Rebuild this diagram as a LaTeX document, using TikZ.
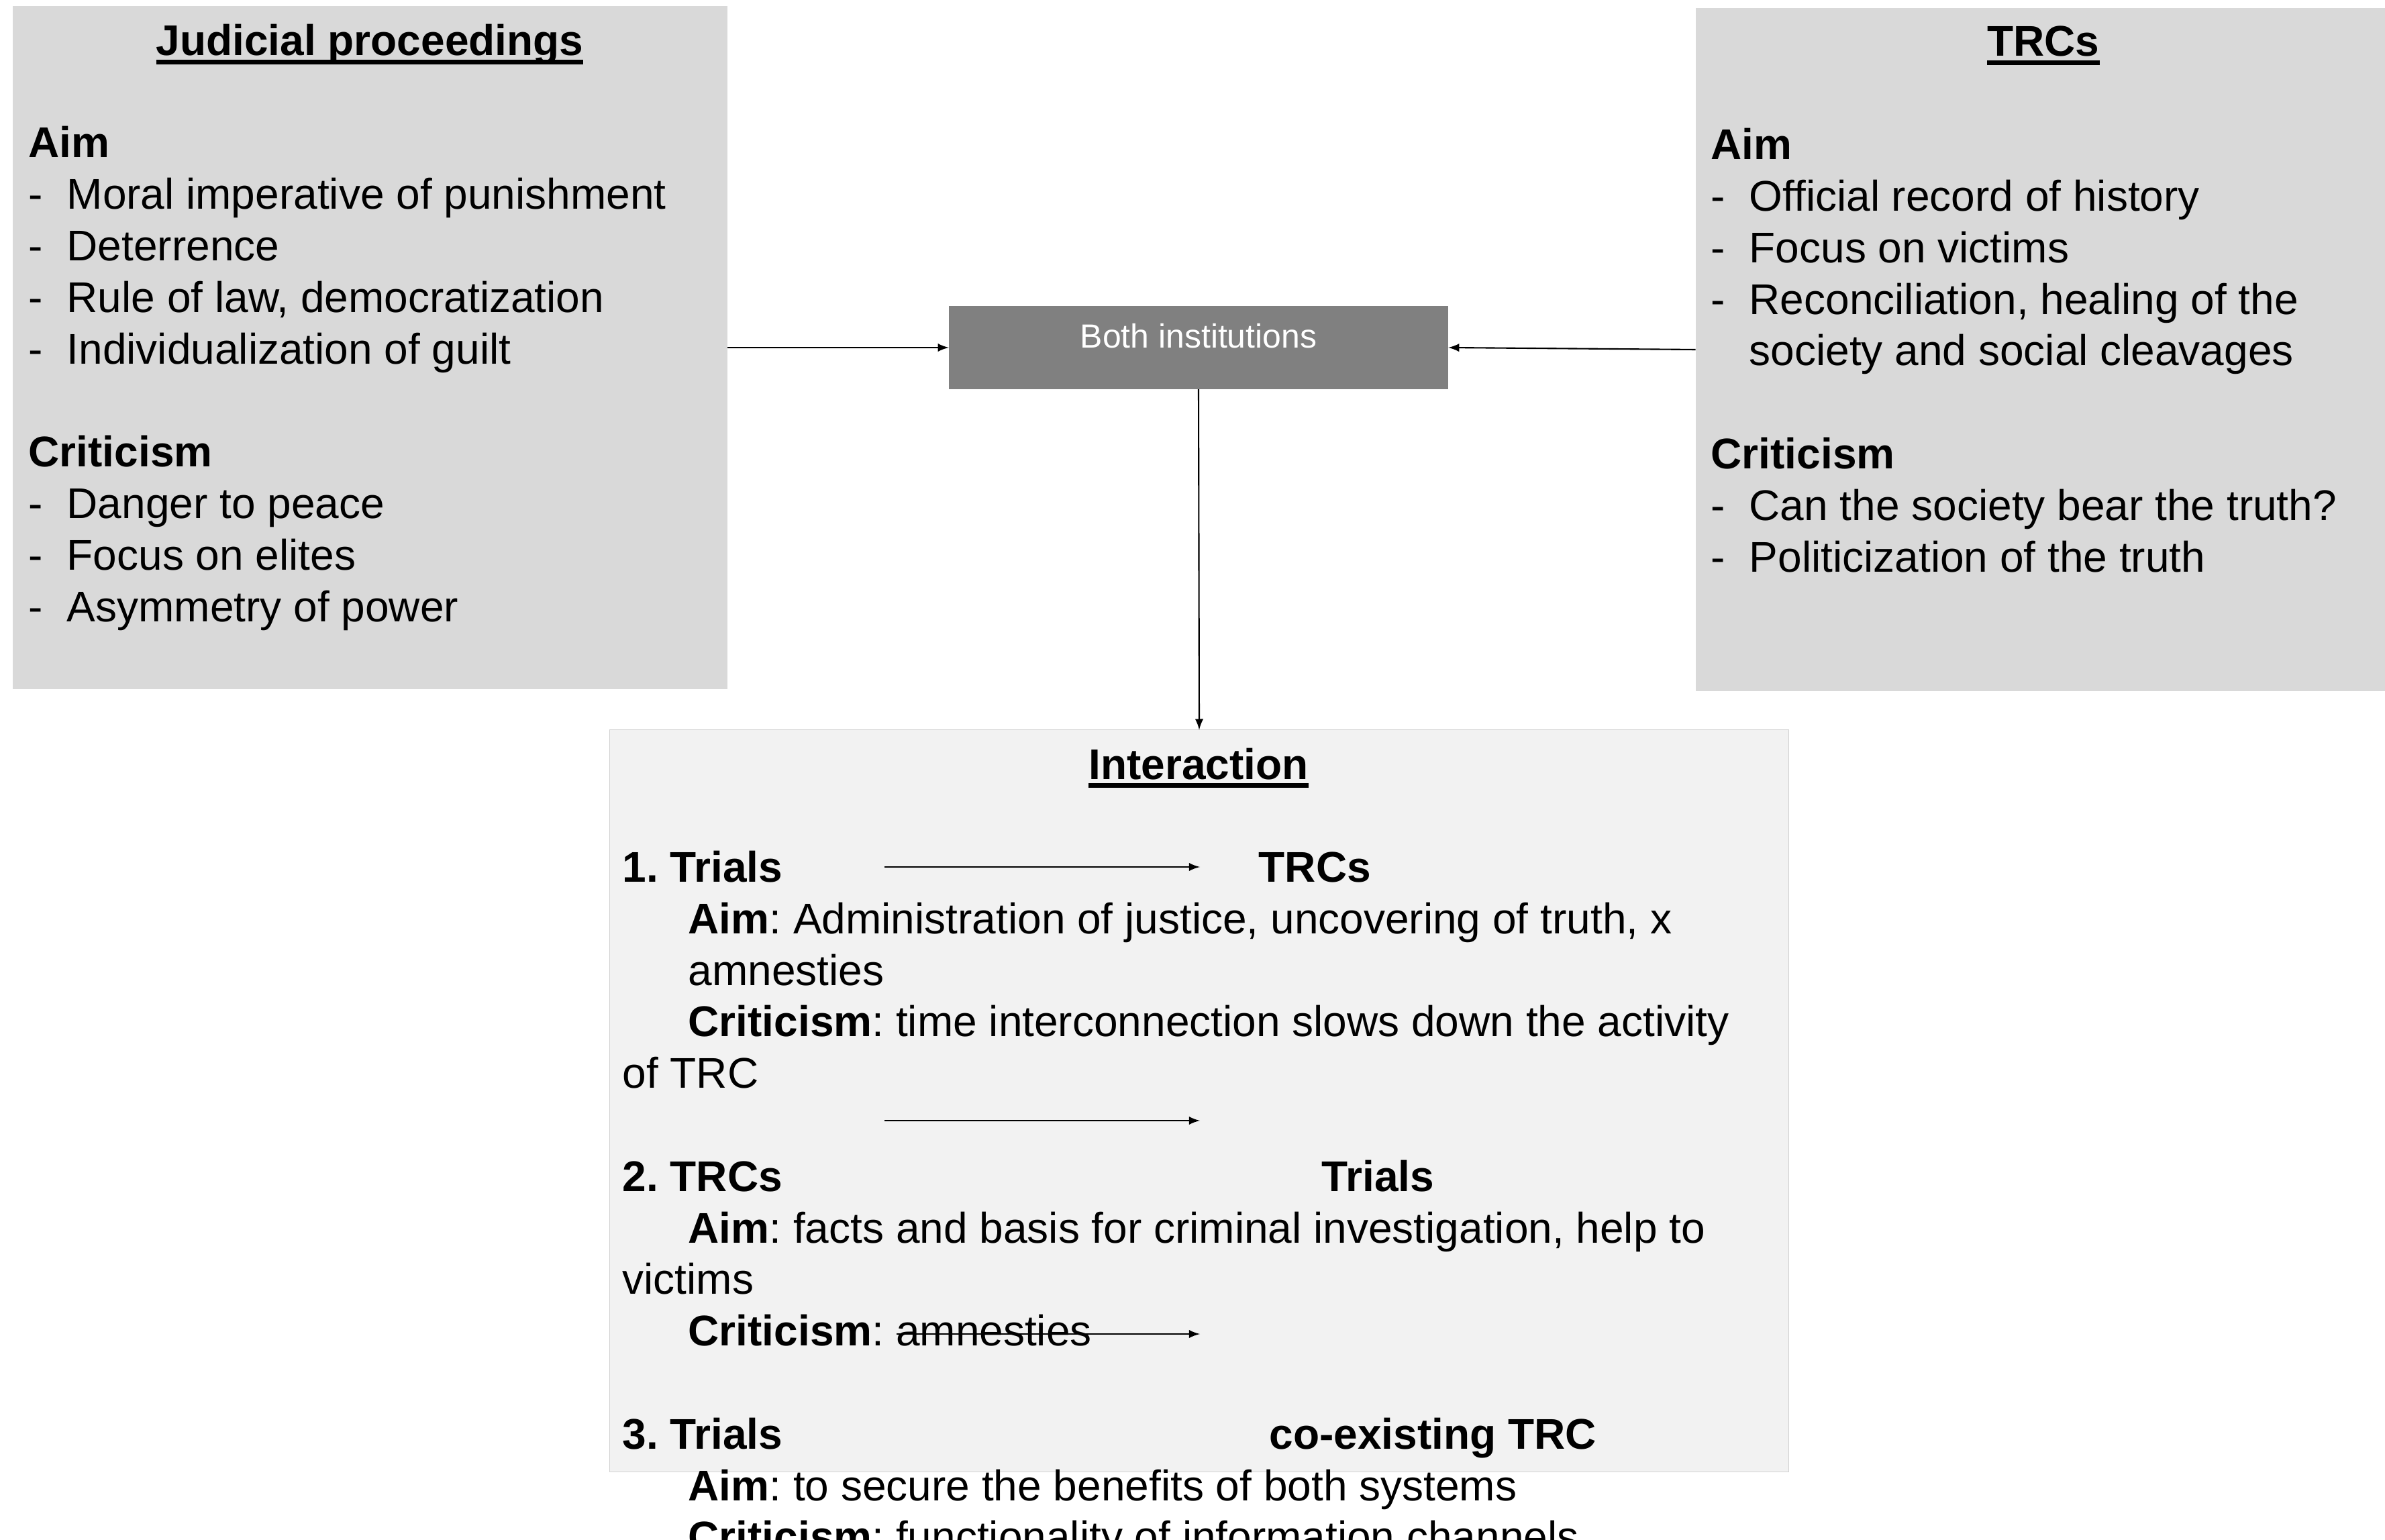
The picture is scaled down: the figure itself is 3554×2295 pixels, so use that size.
\documentclass[tikz,border=0pt]{standalone}
\usepackage{fontspec}
\setmainfont{Liberation Sans}
\usepackage{tikz}
\usetikzlibrary{positioning}
\frenchspacing

\newcommand{\fs}{\fontsize{18.2}{21.9}\selectfont}
\newcommand{\ttl}[1]{\setbox0\hbox{\bfseries #1}\rlap{\rule[-0.13cm]{\wd0}{0.07cm}}\box0}
\newcommand{\itm}[1]{\makebox[0.57cm][l]{-}#1}

\begin{document}
\begin{tikzpicture}[x=0.01cm,y=-0.01cm,
	box/.style={fill=black!15,inner sep=0,outer sep=0},
	line/.style={anchor=base west,inner sep=0,font=\fs},
	arr/.style={-latex,line width=0.6pt}]
		\useasboundingbox (0,0) rectangle (3554,2295);
		% the three panels and the middle box
		\node[box,minimum width=10.65cm,minimum height=10.18cm] (jp) at (551.5,518) {};
		\node[box,minimum width=10.33cm,minimum height=10.18cm] (trc) at (3043.5,521) {};
		\node[box,fill=black!50,minimum width=7.44cm,minimum height=1.24cm] (both) at (1786,518) {};
		\node[box,fill=black!5,draw=black!18,line width=0.4pt,minimum width=17.56cm,minimum height=11.05cm] (inter) at (1787,1640.5) {};
		\node[inner sep=0,anchor=base,text=white,font=\fontsize{14.2}{17}\selectfont] (botht) at (1786,519) {Both institutions};

		\draw[arr] (jp.east |- both.west) -- (both.west);
		\draw[arr] (trc.west) -- (both.east);
		\draw[arr] (both.south) -- (inter.north);

		% Judicial proceedings
		\node[line,anchor=base] (jpt) at (551,83) {\ttl{Judicial proceedings}};
		\node[line] (jpa) at (42,235) {\bfseries Aim};
		\foreach \t [count=\i] in {Moral imperative of punishment, Deterrence, {Rule of law, democratization}, Individualization of guilt}{
			\node[line] (jpa\i) at (42,235+\i*76.8) {\itm{\t}};
		}
		\node[line] (jpc) at (42,696) {\bfseries Criticism};
		\foreach \t [count=\i] in {Danger to peace, Focus on elites, Asymmetry of power}{
			\node[line] (jpc\i) at (42,696+\i*76.8) {\itm{\t}};
		}

		% TRCs
		\node[line,anchor=base] (trct) at (3045,84) {\ttl{TRCs}};
		\node[line] (trca) at (2549,238) {\bfseries Aim};
		\foreach \t [count=\i] in {Official record of history, Focus on victims, {Reconciliation, healing of the}}{
			\node[line] (trca\i) at (2549,238+\i*76.8) {\itm{\t}};
		}
		\node[line] (trca4) at (2549,545) {\hspace*{0.57cm}society and social cleavages};
		\node[line] (trcc) at (2549,699) {\bfseries Criticism};
		\foreach \t [count=\i] in {Can the society bear the truth?, Politicization of the truth}{
			\node[line] (trcc\i) at (2549,699+\i*76.8) {\itm{\t}};
		}

		% Interaction
		\node[line,anchor=base] (intt) at (1786,1161) {\ttl{Interaction}};
		\node[line] (i1) at (927,1314) {\bfseries 1. Trials};
		\node[line] (i1r) at (1875,1314) {\bfseries TRCs};
		\node[line] (i1a) at (1025,1391) {\textbf{Aim}: Administration of justice, uncovering of truth, x};
		\node[line] (i1b) at (1025,1468) {amnesties};
		\node[line] (i1c) at (1025,1544) {\textbf{Criticism}: time interconnection slows down the activity};
		\node[line] (i1d) at (927,1621) {of TRC};
		\node[line] (i2) at (927,1775) {\bfseries 2. TRCs};
		\node[line] (i2r) at (1969,1775) {\bfseries Trials};
		\node[line] (i2a) at (1025,1852) {\textbf{Aim}: facts and basis for criminal investigation, help to};
		\node[line] (i2b) at (927,1928) {victims};
		\node[line] (i2c) at (1025,2005) {\textbf{Criticism}: amnesties};
		\node[line] (i3) at (927,2159) {\bfseries 3. Trials};
		\node[line] (i3r) at (1891,2159) {\bfseries co-existing TRC};
		\node[line] (i3a) at (1025,2236) {\textbf{Aim}: to secure the benefits of both systems};
		\node[line] (i3c) at (1025,2312) {\textbf{Criticism}: functionality of information channels};

		\coordinate (a1s) at (1318,1292);
		\coordinate (a1e) at (1788,1292);
		\coordinate (a2s) at (1318,1670);
		\coordinate (a2e) at (1788,1670);
		\coordinate (a3s) at (1336,1988);
		\coordinate (a3e) at (1788,1988);
		\draw[arr] (a1s) -- (a1e);
		\draw[arr] (a2s) -- (a2e);
		\draw[arr] (a3s) -- (a3e);
\end{tikzpicture}
\end{document}
